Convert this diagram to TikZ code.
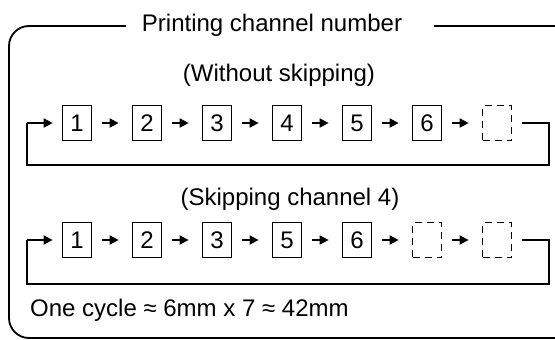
\documentclass[tikz,border=0pt]{standalone}
\usepackage{fontspec}
\setmainfont{Liberation Sans}
\usetikzlibrary{arrows.meta}
\begin{document}
\begin{tikzpicture}[x=1pt,y=1pt,
  every node/.style={font=\fontsize{24}{28}\selectfont},
  chbox/.style={draw, line width=1.7pt, minimum width=29pt, minimum height=35pt, inner sep=0pt},
  emptybox/.style={chbox, dashed, dash pattern=on 7pt off 5pt},
  flow/.style={line width=1.7pt, -{Triangle[length=9pt,width=9pt]}, shorten <=10pt, shorten >=13pt},
  loopline/.style={line width=1.7pt}]
\useasboundingbox (0,0) rectangle (555,-340);
\begin{scope}
\clip (0,0) rectangle (555,-340);
\draw[line width=1.8pt, rounded corners=20pt] (9,-26) rectangle (580,-338);
\fill[white] (126,-18) rectangle (434,-34);
\end{scope}
\node[anchor=base] (title) at (272,-31) {Printing channel number};
\node[anchor=base] (sub1) at (279,-81) {(Without skipping)};
\node[anchor=base] (sub2) at (290,-205) {(Skipping channel 4)};
\node[anchor=base west, inner sep=0pt] (cyc) at (30,-316) {One cycle ≈ 6mm x 7 ≈ 42mm};
% row 1
\node[chbox] (a1) at (77,-123) {1};
\node[chbox] (a2) at (147,-123) {2};
\node[chbox] (a3) at (217,-123) {3};
\node[chbox] (a4) at (287,-123) {4};
\node[chbox] (a5) at (357,-123) {5};
\node[chbox] (a6) at (427,-123) {6};
\node[emptybox] (a7) at (497,-123) {};
\foreach \i/\j in {1/2,2/3,3/4,4/5,5/6,6/7} \draw[flow] (a\i) -- (a\j);
\coordinate (ar) at (549,-123);
\coordinate (arb) at (549,-165);
\coordinate (alb) at (27,-165);
\coordinate (al) at (27,-123);
\draw[loopline] ([xshift=10pt]a7.east) -- (ar) -- (arb) -- (alb) -- (al);
\draw[line width=1.7pt, -{Triangle[length=9pt,width=9pt]}, shorten >=9pt] (al) -- (a1.west);
% row 2
\node[chbox] (b1) at (77,-240) {1};
\node[chbox] (b2) at (147,-240) {2};
\node[chbox] (b3) at (217,-240) {3};
\node[chbox] (b4) at (287,-240) {5};
\node[chbox] (b5) at (357,-240) {6};
\node[emptybox] (b6) at (427,-240) {};
\node[emptybox] (b7) at (497,-240) {};
\foreach \i/\j in {1/2,2/3,3/4,4/5,5/6,6/7} \draw[flow] (b\i) -- (b\j);
\coordinate (br) at (549,-240);
\coordinate (brb) at (549,-284);
\coordinate (blb) at (27,-284);
\coordinate (bl) at (27,-240);
\draw[loopline] ([xshift=10pt]b7.east) -- (br) -- (brb) -- (blb) -- (bl);
\draw[line width=1.7pt, -{Triangle[length=9pt,width=9pt]}, shorten >=9pt] (bl) -- (b1.west);
\end{tikzpicture}
\end{document}
